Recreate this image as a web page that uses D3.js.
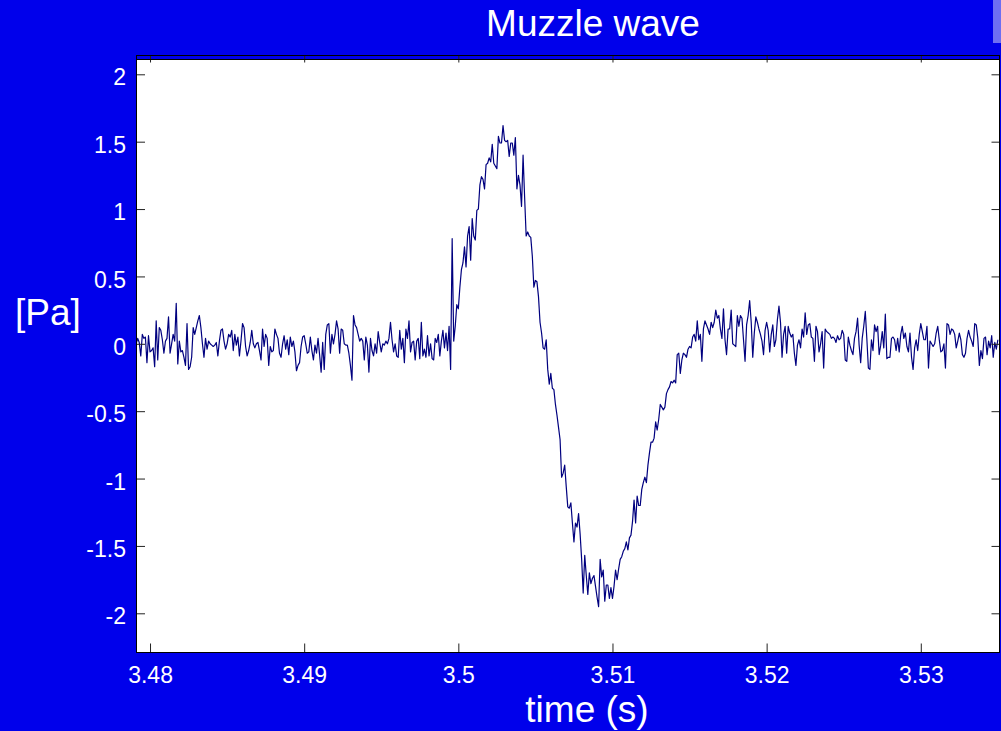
<!DOCTYPE html>
<html>
<head>
<meta charset="utf-8">
<script src="https://cdn.jsdelivr.net/npm/d3@7"></script>
<style>
  body { margin: 0; background: #0000eb; }
  svg { display: block; }
</style>
</head>
<body>
<script>
// pressure samples in Pa, one every 0.1 ms starting at t0
const t0 = 3.4791, dt = 0.0001;

const noiseBefore = [
  0.00, 0.04, 0.01, -0.09, 0.07, 0.04, 0.05, -0.14, 0.06, -0.06,
  -0.05, -0.03, -0.17, 0.17, -0.12, 0.12, 0.10, 0.03, -0.07, 0.02,
  0.04, 0.20, -0.07, 0.00, 0.07, 0.02, 0.30, -0.15, 0.02, -0.06,
  -0.05, -0.10, -0.16, 0.15, -0.19, -0.17, -0.10, 0.12, 0.07, 0.12,
  0.17, 0.21, 0.12, 0.00, -0.10, 0.04, -0.04, 0.02, 0.00, -0.01,
  -0.02, -0.01, 0.01, -0.09, 0.02, 0.10, 0.11, 0.02, -0.04, 0.00,
  0.07, 0.05, 0.10, -0.05, 0.07, -0.01, 0.05, -0.09, 0.02, 0.15,
  0.12, -0.02, -0.09, -0.05, 0.01, 0.10, 0.00, -0.03, 0.00, 0.01,
  -0.05, -0.12, 0.11, -0.02, 0.07, 0.04, -0.16, -0.02, -0.06, -0.05,
  0.11, 0.07, 0.04, -0.07, -0.10, 0.00, 0.06, -0.04, 0.03, -0.08,
  0.05, -0.02, 0.02, -0.06,
  -0.20, -0.16, -0.14, -0.02, 0.05, 0.06, 0.00, -0.07, -0.06, 0.05,
  -0.05, -0.12, -0.01, -0.07, 0.04, -0.08, -0.21, 0.01, -0.19, 0.07,
  0.14, 0.15, -0.07, 0.07, 0.00, 0.07, 0.17, 0.11, -0.07, 0.11,
  0.10, 0.00, -0.01, -0.01, -0.07, -0.16, -0.27, 0.21, 0.14, 0.12,
  0.07, 0.02, 0.04, 0.02, -0.12, 0.05, -0.01, -0.21, 0.04, -0.05,
  -0.09, 0.00, -0.07, 0.09, 0.01, -0.06, 0.00, -0.01, 0.02, 0.00,
  0.04, 0.16, 0.03, -0.06, 0.00, -0.09, -0.10, 0.10, -0.04, 0.04,
  -0.14, 0.11, 0.04, 0.17, -0.06, 0.01, 0.02, -0.12, 0.02, 0.04,
  -0.11, 0.16, -0.09, -0.04, -0.10, 0.06, -0.09, 0.00, -0.11, -0.12,
  0.04, 0.01, 0.07, -0.09, 0.02, 0.10, -0.03, 0.08, -0.05, 0.13,
  -0.19
];

const pulse = [
  0.78, 0.02, 0.13, 0.29, 0.26, 0.42, 0.55, 0.60, 0.72, 0.57,
  0.80, 0.87, 0.62, 0.93, 0.80, 0.77, 0.99, 1.00, 1.18, 1.24,
  1.22, 1.15, 1.33, 1.34, 1.38, 1.35, 1.48, 1.34, 1.32, 1.30,
  1.54, 1.49, 1.49, 1.62, 1.51, 1.50, 1.51, 1.39, 1.49, 1.49,
  1.40, 1.53, 1.15, 1.25, 1.18, 1.02, 1.40, 1.09, 0.80, 0.83,
  0.80, 0.79, 0.65, 0.42, 0.47, 0.46, 0.35, 0.16, 0.08, -0.03,
  -0.04, 0.03, -0.19,
  -0.30, -0.22, -0.33, -0.34, -0.45, -0.53, -0.62, -0.71, -0.99, -0.96,
  -0.90, -1.06, -1.21, -1.22, -1.18, -1.33, -1.47, -1.33, -1.36, -1.26,
  -1.41, -1.60, -1.85, -1.57, -1.72, -1.86, -1.70, -1.78, -1.74, -1.72,
  -1.80, -1.88, -1.95, -1.60, -1.73, -1.68, -1.91, -1.79, -1.79, -1.89,
  -1.81, -1.89, -1.80, -1.68, -1.75, -1.67, -1.60, -1.58, -1.54, -1.52,
  -1.47, -1.53, -1.44, -1.42, -1.32, -1.16, -1.33, -1.13, -1.20, -1.20,
  -1.08, -1.03, -0.99, -1.03, -0.90, -0.81, -0.73, -0.73, -0.70, -0.58,
  -0.64, -0.56, -0.45, -0.47, -0.49, -0.47, -0.37, -0.34, -0.32, -0.28,
  -0.29, -0.27, -0.29, -0.08, -0.07
];

const noiseAfter = [
  -0.22, -0.12, -0.07, -0.08, -0.10, -0.04, -0.02, -0.03, 0.05, 0.07,
  0.02, 0.17, 0.03, 0.07, -0.13, 0.11, 0.17, 0.14, 0.11, 0.07,
  0.16, 0.12, 0.16, 0.25, 0.19, 0.21, 0.11, 0.04, 0.26, 0.03,
  -0.08, 0.11, 0.11, 0.25, 0.00, -0.01, -0.02, 0.21, 0.13, 0.21,
  0.19, 0.03, -0.13, 0.14, 0.21, 0.32, 0.16, -0.10, 0.08, 0.20,
  0.16, 0.11, 0.07, 0.02, -0.08, 0.10, 0.16, 0.10, -0.06, 0.07,
  0.14, -0.02, 0.03, 0.18, 0.28, 0.16, -0.10, 0.07, 0.13, -0.07,
  0.13, 0.08, 0.05, 0.07, -0.07, -0.16, -0.01, 0.03, -0.03, 0.11,
  0.05, 0.23, 0.07, 0.14, 0.15, 0.05, 0.04, -0.13, 0.13, 0.09,
  -0.06, 0.00, 0.09, -0.18, 0.11, 0.09, 0.08, 0.07, 0.04, 0.05,
  0.04, 0.01, 0.06, 0.03,
  0.04, 0.10, 0.07, -0.12, -0.13, 0.05, -0.01, -0.05, -0.08, 0.04,
  0.09, 0.19, -0.01, -0.14, 0.04, 0.13, 0.24, 0.04, -0.18, -0.19,
  0.03, -0.05, 0.14, 0.09, 0.13, -0.08, -0.01, 0.09, -0.03, 0.22,
  -0.11, -0.10, -0.10, 0.04, 0.05, 0.03, -0.05, 0.04, -0.06, 0.07,
  0.13, 0.04, 0.08, -0.02, -0.06, 0.08, -0.10, -0.19, -0.03, 0.03,
  -0.05, 0.07, 0.15, 0.09, 0.03, 0.03, 0.13, -0.18, 0.02, 0.00,
  -0.02, 0.00, 0.08, 0.13, 0.03, -0.06, -0.05, 0.00, -0.18, 0.15,
  0.14, 0.07, 0.11, 0.10, 0.07, -0.03, 0.02, 0.08, 0.03, -0.08,
  -0.10, -0.07, 0.04, 0.10, 0.05, 0.02, -0.02, 0.15, 0.14, 0.04,
  -0.16, -0.05, -0.11, 0.04, 0.05, -0.08, 0.02, -0.03, 0.06, -0.10,
  0.01, -0.04, 0.03
];

const xTicks = [3.48, 3.49, 3.5, 3.51, 3.52, 3.53];
const xTickLabels = ["3.48", "3.49", "3.5", "3.51", "3.52", "3.53"];
const yTicks = [-2, -1.5, -1, -0.5, 0, 0.5, 1, 1.5, 2];
const yTickLabels = ["-2", "-1.5", "-1", "-0.5", "0", "0.5", "1", "1.5", "2"];

const signal = noiseBefore.concat(pulse, noiseAfter);
const data = signal.map(function(v, i) { return {t: t0 + i * dt, v: v}; });

const W = 1001, H = 731;
const font = "'Liberation Sans', Arial, sans-serif";

const svg = d3.select('body').append('svg')
    .attr('width', W)
    .attr('height', H);

// figure background + little light strip top right
svg.append('rect').attr('width', W).attr('height', H).attr('fill', '#0000eb');
svg.append('rect').attr('x', 993).attr('y', 0).attr('width', 8).attr('height', 43).attr('fill', '#6e6ef2');

// plot box
const boxL = 136.5, boxR = 999.5, boxT = 55.5, innerT = 59.5, boxB = 652.5;

const xScale = d3.scaleLinear().domain([3.47909, 3.5351]).range([136, 999.4]);
const yScale = d3.scaleLinear().domain([-2, 2]).range([613.3, 74.3]);

svg.append('rect')
    .attr('x', boxL).attr('y', innerT)
    .attr('width', boxR - boxL).attr('height', boxB - innerT)
    .attr('fill', '#fff');

svg.append('clipPath').attr('id', 'clip')
  .append('rect')
    .attr('x', boxL).attr('y', innerT)
    .attr('width', boxR - boxL).attr('height', boxB - innerT);

// the trace
const line = d3.line()
    .x(function(d) { return xScale(d.t); })
    .y(function(d) { return yScale(d.v); });

svg.append('path')
    .datum(data)
    .attr('clip-path', 'url(#clip)')
    .attr('fill', 'none')
    .attr('stroke', '#00007f')
    .attr('stroke-width', 1.2)
    .attr('stroke-linejoin', 'round')
    .attr('d', line);

// axes, ticks pointing inward
svg.append('g')
    .attr('transform', 'translate(0,' + boxB + ')')
    .call(d3.axisBottom(xScale)
        .tickValues(xTicks)
        .tickFormat(function(d, i) { return xTickLabels[i]; })
        .tickSize(-9).tickSizeOuter(0).tickPadding(14));

const yAxis = svg.append('g')
    .attr('transform', 'translate(' + boxL + ',0)')
    .call(d3.axisLeft(yScale)
        .tickValues(yTicks)
        .tickFormat(function(d, i) { return yTickLabels[i]; })
        .tickSize(-8.5).tickSizeOuter(0).tickPadding(10.5));

svg.append('g')
    .attr('transform', 'translate(0,' + boxT + ')')
    .call(d3.axisTop(xScale).tickValues(xTicks).tickFormat('')
        .tickSize(-7).tickSizeOuter(0));

svg.append('g')
    .attr('transform', 'translate(' + boxR + ',0)')
    .call(d3.axisRight(yScale).tickValues(yTicks).tickFormat('')
        .tickSize(-8).tickSizeOuter(0));

svg.selectAll('.domain').remove();
svg.selectAll('.tick line').attr('stroke', '#222');
svg.selectAll('.tick text')
    .attr('fill', '#fff')
    .style('font-family', font)
    .style('font-size', '23px');
yAxis.selectAll('.tick text').attr('dy', '0.46em');

// frame
svg.append('rect')
    .attr('x', boxL).attr('y', boxT)
    .attr('width', boxR - boxL).attr('height', boxB - boxT)
    .attr('fill', 'none').attr('stroke', '#000').attr('stroke-width', 1);
svg.append('line')
    .attr('x1', boxL).attr('x2', boxR)
    .attr('y1', innerT).attr('y2', innerT)
    .attr('stroke', '#000');

// titles
svg.append('text')
    .attr('x', 593).attr('y', 36)
    .attr('text-anchor', 'middle')
    .attr('fill', '#fff')
    .style('font-family', font).style('font-size', '37px')
    .text('Muzzle wave');

svg.append('text')
    .attr('x', 587).attr('y', 722)
    .attr('text-anchor', 'middle')
    .attr('fill', '#fff')
    .style('font-family', font).style('font-size', '37px')
    .text('time (s)');

svg.append('text')
    .attr('x', 15).attr('y', 325)
    .attr('fill', '#fff')
    .style('font-family', font).style('font-size', '37px')
    .text('[Pa]');
</script>
</body>
</html>
